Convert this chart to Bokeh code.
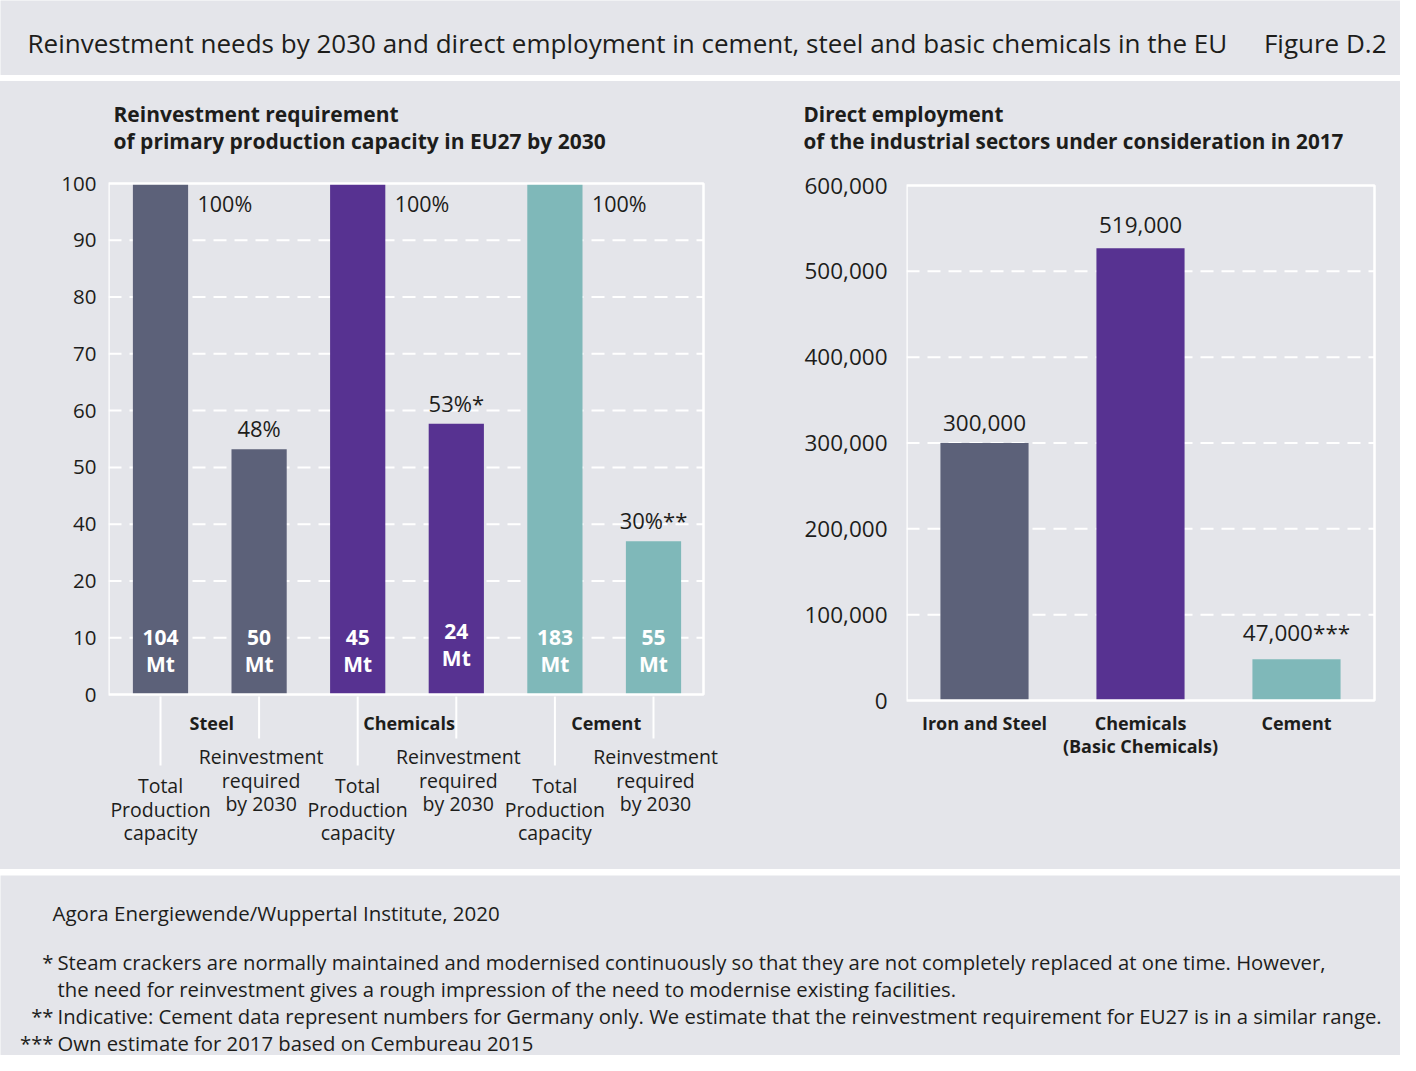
from bokeh.plotting import figure
from bokeh.models import Range1d, FixedTicker, ColumnDataSource, NumeralTickFormatter
from bokeh.layouts import column, row
from bokeh.embed import file_html
from bokeh.resources import INLINE
from bokeh.core.properties import value

# ---------------- data ----------------
main_title = "Reinvestment needs by 2030 and direct employment in cement, steel and basic chemicals in the EU"
figure_id = "Figure D.2"

left_title = ["Reinvestment requirement", "of primary production capacity in EU27 by 2030"]
sectors = ["Steel", "Chemicals", "Cement"]
capacity_mt = [104, 45, 183]          # total production capacity, Mt
reinvest_mt = [50, 24, 55]            # reinvestment required by 2030, Mt
total_pct = [100, 100, 100]
reinvest_pct = [48, 53, 30]
reinvest_notes = ["", "*", "**"]
left_ytick_labels = ["0", "10", "20", "40", "50", "60", "70", "80", "90", "100"]
total_label = ["Total", "Production", "capacity"]
reinvest_label = ["Reinvestment", "required", "by 2030"]

right_title = ["Direct employment", "of the industrial sectors under consideration in 2017"]
emp_categories = [["Iron and Steel"], ["Chemicals", "(Basic Chemicals)"], ["Cement"]]
emp_values = [300000, 527000, 48000]   # bar heights as drawn
emp_labels = ["300,000", "519,000", "47,000***"]
emp_yticks = [0, 100000, 200000, 300000, 400000, 500000, 600000]

source_text = "Agora Energiewende/Wuppertal Institute, 2020"
foot_marks = ["*", "", "**", "***"]
foot_lines = [
    "Steam crackers are normally maintained and modernised continuously so that they are not completely replaced at one time. However,",
    "the need for reinvestment gives a rough impression of the need to modernise existing facilities.",
    "Indicative: Cement data represent numbers for Germany only. We estimate that the reinvestment requirement for EU27 is in a similar range.",
    "Own estimate for 2017 based on Cembureau 2015",
]

# ---------------- style ----------------
BG = "#e4e5ea"
INK = "#1d1d1b"
FONT = "Open Sans"
SECTOR_COLORS = ["#5c6179", "#573291", "#7fb8b9"]
GRID_DASH = "13 8"
TXT = dict(text_font=value(FONT), text_color=INK, text_baseline="middle")


def base_fig(w, h, fill=BG, **kw):
    p = figure(width=w, height=h, output_backend="svg", toolbar_location=None, **kw)
    p.background_fill_color = fill
    p.border_fill_color = fill
    p.outline_line_color = None
    p.grid.visible = False
    p.frame_align = False
    return p


def pixel_fig(w, h, fill=BG):
    return base_fig(w, h, fill=fill, x_range=Range1d(0, w), y_range=Range1d(h, 0),
                    x_axis_location=None, y_axis_location=None, min_border=0)


def style_yaxis(ax, standoff, size):
    ax.axis_line_color = None
    ax.major_tick_line_color = None
    ax.minor_tick_line_color = None
    ax.major_tick_out = 0
    ax.major_tick_in = 0
    ax.major_label_standoff = standoff
    ax.major_label_text_font = FONT
    ax.major_label_text_font_size = size
    ax.major_label_text_color = INK


# ---------------- title band ----------------
pt = pixel_fig(1400, 75)
pt.text(x=[27], y=[42], text=[main_title], text_font_size="26px", text_align="left", **TXT)
pt.text(x=[1386], y=[42], text=[figure_id], text_font_size="26px", text_align="right", **TXT)

# chart sub-titles (transparent; the middle band supplies the background)
plt_ = pixel_fig(760, 84, fill=None)
plt_.text(x=[113, 113], y=[32, 59], text=left_title, text_font_size="21px",
          text_font_style="bold", text_align="left", **TXT)
prt = pixel_fig(640, 84, fill=None)
prt.text(x=[43, 43], y=[32, 59], text=right_title, text_font_size="20.7px",
         text_font_style="bold", text_align="left", **TXT)

# ---------------- left chart ----------------
LTOP, LBOT = 165, 869
L_BOX = (108, 703, 694, 183)          # left, right, y(0), y(100)
L_X0, L_DX = 160, 98.6                # first bar centre, px per bar slot
L_PPU = (L_BOX[2] - L_BOX[3]) / 100   # px per percentage point


def lx(a):
    return (a - L_X0) / L_DX


def ly(a):
    return (L_BOX[2] - a) / L_PPU


pl = base_fig(760, LBOT - LTOP, fill=None, x_range=Range1d(lx(108), lx(760)),
              y_range=Range1d(ly(LBOT) * 9 / 100, ly(LTOP) * 9 / 100),
              x_axis_location=None, min_border_left=108, min_border_right=0,
              min_border_top=0, min_border_bottom=0)
pl.extra_y_ranges = {"pct": Range1d(ly(LBOT), ly(LTOP))}

ya = pl.yaxis[0]
ya.ticker = FixedTicker(ticks=list(range(len(left_ytick_labels))))
ya.major_label_overrides = {i: lab for i, lab in enumerate(left_ytick_labels)}
style_yaxis(ya, 12, "20.5px")

gl = list(range(1, len(left_ytick_labels) - 1))
pl.segment(x0=[lx(L_BOX[0])] * len(gl), x1=[lx(L_BOX[1])] * len(gl), y0=gl, y1=gl,
           line_color="white", line_width=2, line_dash=GRID_DASH)

xs, tops, cols, num_txt, num_y, mt_y = [], [], [], [], [], []
lift = [0, 0, 0, 6, 0, 0]
for i, s in enumerate(sectors):
    xs += [2 * i, 2 * i + 1]
    tops += [total_pct[i], reinvest_pct[i]]
    cols += [SECTOR_COLORS[i], SECTOR_COLORS[i]]
    num_txt += [str(capacity_mt[i]), str(reinvest_mt[i])]
for k in range(len(xs)):
    num_y.append(ly(637 - lift[k]))
    mt_y.append(ly(663 - lift[k]))

src_l = ColumnDataSource(dict(x=xs, top=tops, color=cols, num=num_txt, ny=num_y, my=mt_y,
                              mt=["Mt"] * len(xs)))
pl.vbar(x="x", top="top", width=0.56, bottom=0, color="color", line_color=None,
        source=src_l, y_range_name="pct")
pl.text(x="x", y="ny", text="num", source=src_l, y_range_name="pct", text_font=value(FONT),
        text_font_size="21px", text_font_style="bold", text_color="white",
        text_align="center", text_baseline="middle")
pl.text(x="x", y="my", text="mt", source=src_l, y_range_name="pct", text_font=value(FONT),
        text_font_size="21px", text_font_style="bold", text_color="white",
        text_align="center", text_baseline="middle")

pl.quad(left=[lx(L_BOX[0])], right=[lx(L_BOX[1])], bottom=[0], top=[100], y_range_name="pct",
        fill_color=None, line_color="white", line_width=2.5)

pl.text(x=[2 * i + 37 / L_DX for i in range(3)], y=[ly(203)] * 3,
        text=[f"{p}%" for p in total_pct], y_range_name="pct",
        text_font_size="21.5px", text_align="left", **TXT)
pl.text(x=[2 * i + 1 for i in range(3)], y=[p + 21 / L_PPU for p in reinvest_pct],
        text=[f"{p}%{n}" for p, n in zip(reinvest_pct, reinvest_notes)], y_range_name="pct",
        text_font_size="22px", text_align="center", **TXT)

pl.segment(x0=[2 * i for i in range(3)], x1=[2 * i for i in range(3)], y0=[ly(696)] * 3,
           y1=[ly(765)] * 3, y_range_name="pct", line_color="white", line_width=2)
pl.segment(x0=[2 * i + 1 for i in range(3)], x1=[2 * i + 1 for i in range(3)], y0=[ly(696)] * 3,
           y1=[ly(738)] * 3, y_range_name="pct", line_color="white", line_width=2)

pl.text(x=[2 * i + 0.5 + 2 / L_DX for i in range(3)], y=[ly(722)] * 3, text=sectors,
        y_range_name="pct", text_font_size="18px", text_font_style="bold",
        text_align="center", **TXT)
for k, line in enumerate(total_label):
    pl.text(x=[2 * i for i in range(3)], y=[ly(785 + 23.5 * k)] * 3, text=[line] * 3,
            y_range_name="pct", text_font_size="19.5px", text_align="center", **TXT)
for k, line in enumerate(reinvest_label):
    pl.text(x=[2 * i + 1 + 2 / L_DX for i in range(3)], y=[ly(756 + 23.5 * k)] * 3,
            text=[line] * 3, y_range_name="pct", text_font_size="19.5px",
            text_align="center", **TXT)

# ---------------- right chart ----------------
R_LEFT = 760
R_BOX = (906, 1374, 700, 185)         # left, right, y(0), y(600000)
R_DX = (R_BOX[1] - R_BOX[0]) / len(emp_values)
R_PPU = (R_BOX[2] - R_BOX[3]) / 600000


def rx(a):
    return (a - R_BOX[0]) / R_DX


def ry(a):
    return (R_BOX[2] - a) / R_PPU


pr = base_fig(640, LBOT - LTOP, fill=None, x_range=Range1d(0, rx(1400)),
              y_range=Range1d(ry(LBOT), ry(LTOP)),
              x_axis_location=None, min_border_left=R_BOX[0] - R_LEFT, min_border_right=0,
              min_border_top=0, min_border_bottom=0)
rya = pr.yaxis[0]
rya.ticker = FixedTicker(ticks=emp_yticks)
rya.formatter = NumeralTickFormatter(format="0,0")
style_yaxis(rya, 19, "22.5px")

rg = emp_yticks[1:-1]
pr.segment(x0=[0] * len(rg), x1=[len(emp_values)] * len(rg), y0=rg, y1=rg,
           line_color="white", line_width=2, line_dash=GRID_DASH)

ex = [i + 0.5 for i in range(len(emp_values))]
lab_gap = [20, 23, 27]
src_r = ColumnDataSource(dict(x=ex, top=emp_values, color=SECTOR_COLORS, lab=emp_labels,
                              ly=[v + g / R_PPU for v, g in zip(emp_values, lab_gap)]))
pr.vbar(x="x", top="top", width=0.565, color="color", line_color=None, source=src_r)
pr.text(x="x", y="ly", text="lab", source=src_r, text_font_size="22.5px", text_align="center", **TXT)
pr.quad(left=[0], right=[len(emp_values)], bottom=[0], top=[emp_yticks[-1]],
        fill_color=None, line_color="white", line_width=2.5)

for i, lines in enumerate(emp_categories):
    for k, line in enumerate(lines):
        pr.text(x=[ex[i]], y=[ry(722 + 23 * k)], text=[line], text_font_size="18px",
                text_font_style="bold", text_align="center", **TXT)

# ---------------- footer ----------------
pf = pixel_fig(1400, 180)
pf.text(x=[52], y=[37], text=[source_text], text_font_size="20.5px", text_align="left", **TXT)
fy = [86 + 27 * k for k in range(len(foot_lines))]
pf.text(x=[57] * len(foot_lines), y=fy, text=foot_lines, text_font_size="20.3px",
        text_align="left", **TXT)
pf.text(x=[53] * len(foot_marks), y=fy, text=foot_marks, text_font_size="20.3px",
        text_align="right", **TXT)

middle = row(column(plt_, pl, spacing=0), column(prt, pr, spacing=0), spacing=0,
             styles={"background-color": BG})
layout = column(pt, middle, pf, spacing=6)
open("out.html", "w").write(file_html(layout, INLINE))
